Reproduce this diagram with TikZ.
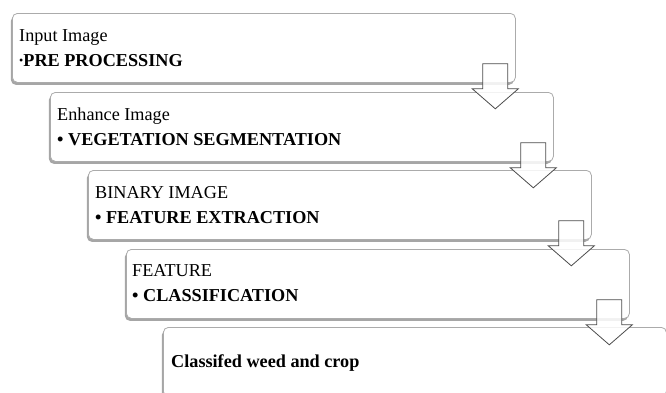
\documentclass[tikz,border=0pt]{standalone}
\usepackage{fontspec}
\setmainfont{Liberation Serif}
\usetikzlibrary{shadows,calc}
\begin{document}
\begin{tikzpicture}[x=1pt,y=-1pt,
  stagebox/.style={draw=black!33, line width=0.8pt, rounded corners=5pt, fill=white,
    minimum width=503pt, minimum height=69pt, anchor=north west, inner sep=0pt,
    drop shadow={shadow xshift=-1.5pt, shadow yshift=-2.5pt, fill=black, opacity=0.35}},
  plainlabel/.style={anchor=base west, inner sep=0pt, font=\fontsize{18.2}{20}\selectfont},
  boldlabel/.style={plainlabel, font=\fontsize{18.2}{20}\selectfont\bfseries},
  blockarrow/.style={draw=black!70, line width=0.8pt, fill=white, fill opacity=0.85, line join=miter}]
\useasboundingbox (0,0) rectangle (666,392);
\clip (0,0) rectangle (666,392);

\node[stagebox] (b1) at (12,13) {};
\node[stagebox] (b2) at (50,92) {};
\node[stagebox] (b3) at (88,170) {};
\node[stagebox] (b4) at (126,249) {};
\node[stagebox] (b5) at (163,327) {};

\node[plainlabel] (t1a) at (19,41) {Input Image};
\node[boldlabel]  (t1b) at (19,66) {{\mdseries\fontsize{12}{14}\selectfont\raisebox{1.5pt}{•}}PRE PROCESSING};
\node[plainlabel] (t2a) at (57,120) {Enhance Image};
\node[boldlabel]  (t2b) at (57,145) {• VEGETATION SEGMENTATION};
\node[plainlabel] (t3a) at (95,198) {BINARY IMAGE};
\node[boldlabel]  (t3b) at (95,223) {• FEATURE EXTRACTION};
\node[plainlabel] (t4a) at (132,276) {FEATURE};
\node[boldlabel]  (t4b) at (132,301) {• CLASSIFICATION};
\node[boldlabel]  (t5)  at (171,367) {Classifed weed and crop};

\foreach \b in {b1,b2,b3,b4}{
  \draw[blockarrow] ($(\b.south east)+(-33,-19)$) -- ++(25,0) -- ++(0,25) -- ++(10.5,0)
    -- ++(-23,20) -- ++(-23,-20) -- ++(10.5,0) -- cycle;
}
\end{tikzpicture}
\end{document}
